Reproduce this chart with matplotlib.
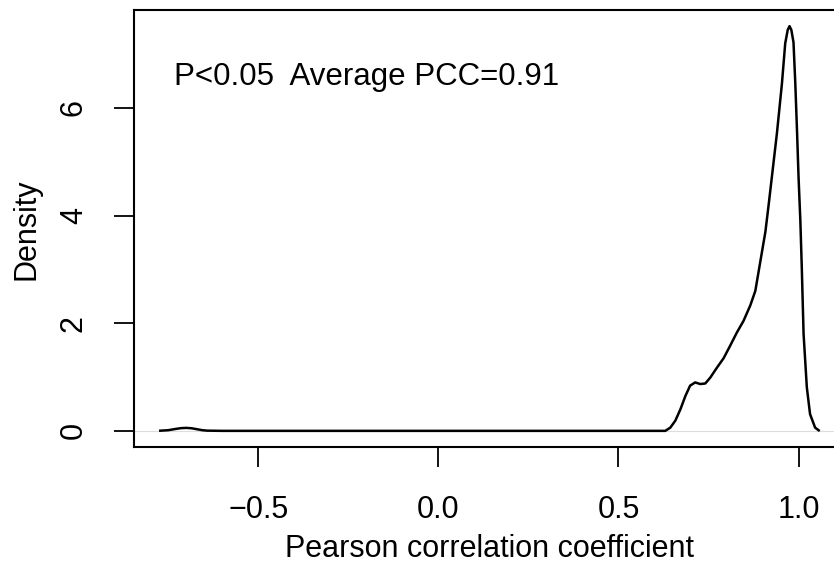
import matplotlib
matplotlib.use('Agg')
import matplotlib.pyplot as plt

plt.rcParams['font.family'] = ['Liberation Sans', 'DejaVu Sans']

# density estimate of PCC values
pcc = [-0.772, -0.75, -0.73, -0.715, -0.70, -0.685, -0.67, -0.655, -0.642, -0.60,
       0.630, 0.644, 0.658, 0.672, 0.686, 0.699, 0.713, 0.727, 0.741, 0.755,
       0.773, 0.792, 0.810, 0.829, 0.847, 0.866, 0.880, 0.894, 0.908, 0.917,
       0.926, 0.940, 0.954, 0.963, 0.970, 0.975, 0.980, 0.986, 0.991, 0.996,
       1.000, 1.005, 1.009, 1.014, 1.023, 1.032, 1.046, 1.056]
density = [0.003, 0.012, 0.035, 0.050, 0.055, 0.048, 0.030, 0.012, 0.004, 0.0,
           0.0, 0.06, 0.19, 0.40, 0.65, 0.84, 0.90, 0.87, 0.88, 0.99,
           1.17, 1.35, 1.58, 1.83, 2.04, 2.33, 2.60, 3.15, 3.70, 4.20,
           4.72, 5.53, 6.46, 7.20, 7.45, 7.52, 7.45, 7.22, 6.46, 5.53,
           4.72, 3.91, 3.04, 1.80, 0.81, 0.31, 0.06, 0.01]

xticks = [-0.5, 0.0, 0.5, 1.0]
yticks = [0, 2, 4, 6]
label = "P<0.05  Average PCC=0.91"

W, H = 834, 565
fig = plt.figure(figsize=(W / 100, H / 100), dpi=100)
ax = fig.add_axes([134 / W, (H - 447) / H, (845 - 134) / W, (447 - 10) / H])

ax.axhline(0, color='#dddddd', lw=0.8, zorder=1)
ax.plot(pcc, density, color='black', lw=1.8, zorder=2)

ax.set_xlim(-0.845, 1.129)
ax.set_ylim(-0.3, 7.82)

ax.set_xticks(xticks)
ax.set_xticklabels([f"{v:.1f}".replace('-', '\u2212') for v in xticks])
ax.set_yticks(yticks)
ax.set_yticklabels([str(v) for v in yticks], rotation=90, va='center')
ax.tick_params(direction='out', length=14.5, width=1.3, labelsize=22, color='black')
ax.tick_params(axis='x', pad=20)
ax.tick_params(axis='y', pad=18)
for s in ax.spines.values():
    s.set_linewidth(1.5)

ax.text(-0.735, 6.42, label, fontsize=22.5, ha='left', va='baseline')

fig.text(489.5 / W, (H - 557) / H, "Pearson correlation coefficient",
         fontsize=22, ha='center', va='baseline')
fig.text(26.5 / W, (H - 229) / H, "Density", fontsize=22, rotation=90,
         ha='center', va='center')

fig.savefig('out.png', dpi=100)
